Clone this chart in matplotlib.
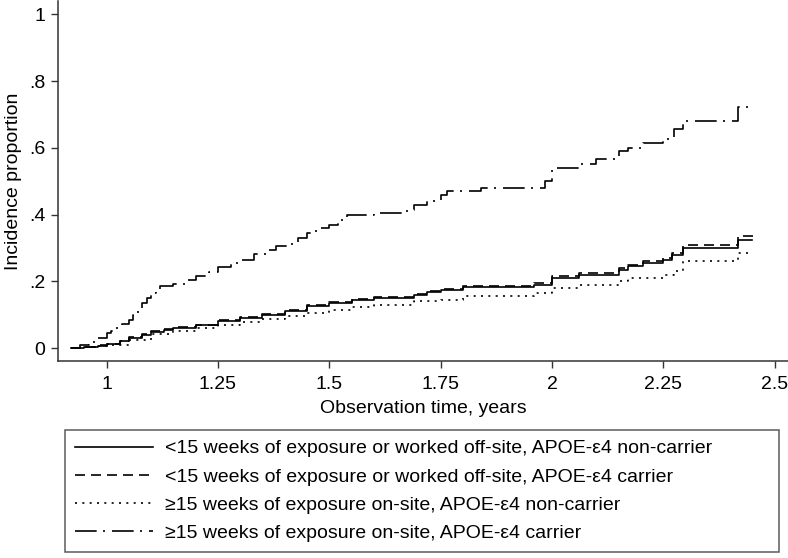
import matplotlib.pyplot as plt

plt.rcParams['font.family'] = ['Liberation Sans', 'DejaVu Sans']

# step curves, values
t_solid = [0.92, 0.95, 0.98, 1.0, 1.03, 1.05, 1.08, 1.1, 1.13, 1.15, 1.2, 1.25, 1.3, 1.35, 1.4,
           1.45, 1.5, 1.55, 1.6, 1.69, 1.72, 1.75, 1.8, 1.96, 2.0, 2.06, 2.15, 2.17, 2.205,
           2.25, 2.27, 2.295, 2.418, 2.45]
y_solid = [0.0, 0.003, 0.007, 0.012, 0.02, 0.03, 0.04, 0.048, 0.055, 0.06, 0.068, 0.08, 0.09,
           0.10, 0.11, 0.125, 0.135, 0.143, 0.15, 0.16, 0.168, 0.175, 0.183, 0.19, 0.21, 0.22,
           0.233, 0.245, 0.255, 0.265, 0.28, 0.30, 0.325, 0.325]

t_dash = [0.92, 0.95, 0.98, 1.0, 1.03, 1.05, 1.08, 1.1, 1.13, 1.15, 1.2, 1.25, 1.3, 1.35, 1.4,
          1.45, 1.5, 1.55, 1.6, 1.69, 1.72, 1.75, 1.8, 1.96, 2.0, 2.06, 2.15, 2.17, 2.205,
          2.25, 2.27, 2.295, 2.418, 2.455]
y_dash = [0.0, 0.003, 0.008, 0.013, 0.022, 0.032, 0.042, 0.05, 0.057, 0.062, 0.07, 0.083,
          0.093, 0.103, 0.113, 0.128, 0.138, 0.146, 0.153, 0.163, 0.171, 0.178, 0.187, 0.195,
          0.215, 0.225, 0.24, 0.25, 0.26, 0.27, 0.285, 0.308, 0.335, 0.335]

t_dot = [0.92, 0.95, 0.98, 1.0, 1.05, 1.1, 1.15, 1.2, 1.25, 1.3, 1.35, 1.4, 1.45, 1.5, 1.55,
         1.6, 1.69, 1.75, 1.8, 1.96, 2.0, 2.06, 2.15, 2.17, 2.25, 2.273, 2.295, 2.418, 2.44]
y_dot = [0.0, 0.002, 0.006, 0.01, 0.025, 0.042, 0.052, 0.06, 0.07, 0.078, 0.087, 0.095, 0.105,
         0.115, 0.122, 0.128, 0.14, 0.145, 0.155, 0.165, 0.18, 0.19, 0.20, 0.21, 0.218, 0.23,
         0.26, 0.285, 0.285]

t_dd = [0.92, 0.94, 0.96, 0.98, 1.0, 1.01, 1.02, 1.035, 1.05, 1.06, 1.07, 1.08, 1.09, 1.1,
        1.11, 1.12, 1.15, 1.18, 1.2, 1.23, 1.25, 1.28, 1.3, 1.33, 1.36, 1.38, 1.41, 1.43,
        1.45, 1.47, 1.5, 1.52, 1.54, 1.6, 1.675, 1.69, 1.72, 1.75, 1.765, 1.84, 1.985, 2.0,
        2.06, 2.10, 2.15, 2.17, 2.205, 2.25, 2.273, 2.295, 2.418, 2.44]
y_dd = [0.0, 0.008, 0.018, 0.03, 0.045, 0.052, 0.06, 0.072, 0.084, 0.1, 0.118, 0.135, 0.15,
        0.165, 0.178, 0.185, 0.192, 0.205, 0.215, 0.228, 0.243, 0.255, 0.263, 0.282, 0.293,
        0.305, 0.313, 0.33, 0.345, 0.36, 0.368, 0.385, 0.398, 0.405, 0.413, 0.43, 0.44, 0.458,
        0.47, 0.48, 0.50, 0.54, 0.553, 0.568, 0.59, 0.60, 0.615, 0.628, 0.658, 0.68, 0.722,
        0.722]

labels = ['<15 weeks of exposure or worked off-site, APOE-\u03b54 non-carrier',
          '<15 weeks of exposure or worked off-site, APOE-\u03b54 carrier',
          '\u226515 weeks of exposure on-site, APOE-\u03b54 non-carrier',
          '\u226515 weeks of exposure on-site, APOE-\u03b54 carrier']

fig = plt.figure(figsize=(7.88, 5.58), dpi=100)
ax = fig.add_axes([0.0736, 0.353, 0.9264, 0.645])

lw = 1.2
ax.plot(t_solid, y_solid, drawstyle='steps-post', color='black', lw=lw, label=labels[0])
ax.plot(t_dash, y_dash, drawstyle='steps-post', color='black', lw=lw,
        dashes=(6, 3.6), label=labels[1])
ax.plot(t_dot, y_dot, drawstyle='steps-post', color='black', lw=lw,
        dashes=(1.2, 3.2), label=labels[2])
ax.plot(t_dd, y_dd, drawstyle='steps-post', color='black', lw=lw,
        dashes=(13, 3.8, 1.2, 4.2), label=labels[3])

ax.set_xlim(0.891, 2.53)
ax.set_ylim(-0.039, 1.04)
ax.set_xticks([1, 1.25, 1.5, 1.75, 2, 2.25, 2.5])
ax.set_xticklabels(['1', '1.25', '1.5', '1.75', '2', '2.25', '2.5'])
ax.set_yticks([0, 0.2, 0.4, 0.6, 0.8, 1])
ax.set_yticklabels(['0', '.2', '.4', '.6', '.8', '1'])
ax.tick_params(labelsize=14, length=5, width=1, direction='out', pad=4, color='#333333')
ax.tick_params(axis='x', pad=5.5)
ax.spines['top'].set_visible(False)
ax.spines['right'].set_visible(False)
for s in ['left', 'bottom']:
    ax.spines[s].set_color('#333333')
    ax.spines[s].set_linewidth(1.1)
ax.set_xlabel('Observation time, years', fontsize=14, labelpad=5)
ax.set_ylabel('Incidence proportion', fontsize=14, labelpad=5)

leg = fig.legend(loc='upper left', bbox_to_anchor=(65 / 788, 0.0, 714 / 788, 1 - 430 / 558),
                 mode='expand', fontsize=14, frameon=True, fancybox=False,
                 edgecolor='#333333', handlelength=4.0, handletextpad=0.65,
                 labelspacing=0.55, borderpad=0.5, borderaxespad=0)
leg.get_frame().set_linewidth(1.1)

fig.savefig('out.png', dpi=100)
